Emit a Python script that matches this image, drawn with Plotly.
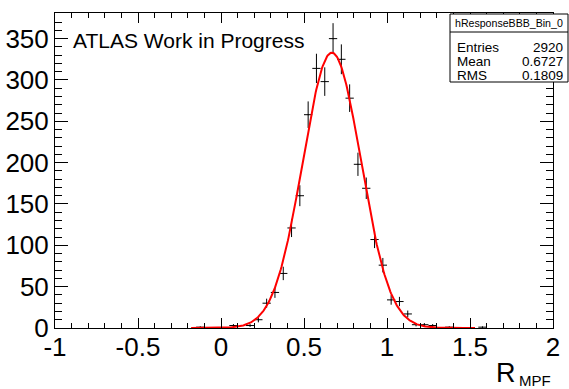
import numpy as np
import plotly.graph_objects as go

# Histogram data (bin width 0.05)
bin_centers = [-0.125, 0.075, 0.175, 0.225, 0.275, 0.325, 0.375, 0.425, 0.475,
               0.525, 0.575, 0.625, 0.675, 0.725, 0.775, 0.825, 0.875, 0.925,
               0.975, 1.025, 1.075, 1.125, 1.175, 1.225, 1.275, 1.375, 1.575]
counts = [1, 3, 3, 10, 30, 43, 66, 121, 160,
          258, 314, 298, 350, 325, 278, 198, 169, 107,
          76, 34, 32, 17, 4, 4, 3, 1, 1]
bin_half_width = 0.025

# Gaussian fit parameters
fit_constant = 333.0
fit_mean = 0.668
fit_sigma = 0.175
fit_range = (-0.18, 1.53)

# Stats box
stats_title = "hResponseBBB_Bin_0"
stats_labels = ["Entries", "Mean", "RMS"]
stats_values = ["2920", "0.6727", "0.1809"]

x_ticks = [-1, -0.5, 0, 0.5, 1, 1.5, 2]
x_ticktext = ["-1", "-0.5", "0", "0.5", "1", "1.5", "2"]
y_ticks = [0, 50, 100, 150, 200, 250, 300, 350]

FONT = "Liberation Sans, Arial, Helvetica, sans-serif"

fig = go.Figure()

errs = [np.sqrt(c) for c in counts]
fig.add_trace(go.Scatter(
    x=bin_centers, y=counts, mode="markers",
    marker=dict(size=1, color="black"),
    error_y=dict(type="data", array=errs, visible=True, color="black", thickness=1, width=0),
    error_x=dict(type="constant", value=bin_half_width, visible=True, color="black", thickness=1, width=0),
    showlegend=False, hoverinfo="skip",
))

xf = np.linspace(fit_range[0], fit_range[1], 400)
yf = fit_constant * np.exp(-0.5 * ((xf - fit_mean) / fit_sigma) ** 2)
fig.add_trace(go.Scatter(x=xf, y=yf, mode="lines", line=dict(color="red", width=2),
                         showlegend=False, hoverinfo="skip"))

L, R, T, B = 55, 16, 13, 61
W, H = 569, 389
pw = W - L - R
ph = H - T - B

def px(xp):
    return (xp - L) / pw

def py(yp):
    return (H - B - yp) / ph

fig.update_layout(
    width=W, height=H,
    margin=dict(l=L, r=R, t=T, b=B, autoexpand=False),
    paper_bgcolor="white", plot_bgcolor="white",
    font=dict(family=FONT, color="black"),
    xaxis=dict(range=[-1, 2], tickvals=x_ticks, ticktext=x_ticktext, automargin=False,
               ticks="inside", ticklen=10, tickwidth=1, tickcolor="black",
               showline=True, linecolor="black", linewidth=1, mirror="allticks",
               showgrid=False, zeroline=False, ticklabelstandoff=-4,
               tickfont=dict(size=26, family=FONT),
               minor=dict(ticks="inside", dtick=0.1, ticklen=5, tickcolor="black", showgrid=False)),
    yaxis=dict(range=[0, 381], tickvals=y_ticks, automargin=False,
               ticks="inside", ticklen=13, tickwidth=1, tickcolor="black",
               showline=True, linecolor="black", linewidth=1, mirror="allticks",
               showgrid=False, zeroline=False,
               tickfont=dict(size=26, family=FONT),
               minor=dict(ticks="inside", dtick=10, ticklen=7, tickcolor="black", showgrid=False)),
)

annotations = []
annotations.append(dict(xref="paper", yref="paper", x=px(71), y=py(40), text="ATLAS Work in Progress",
                        showarrow=False, xanchor="left", yanchor="middle",
                        font=dict(size=21, family=FONT, color="black")))
annotations.append(dict(xref="paper", yref="paper", x=px(518), y=py(373), text="R",
                        showarrow=False, xanchor="right", yanchor="middle",
                        font=dict(size=27, family=FONT, color="black")))
annotations.append(dict(xref="paper", yref="paper", x=px(517), y=py(380), text="MPF",
                        showarrow=False, xanchor="left", yanchor="middle",
                        font=dict(size=15, family=FONT, color="black")))

# stats box
bx0, bx1, by0, by1, bsep = 450, 568, 14, 82, 32
shapes = [
    dict(type="rect", xref="paper", yref="paper", x0=px(bx0), x1=px(bx1), y0=py(by0), y1=py(by1),
         line=dict(color="black", width=1), fillcolor="white", layer="above"),
    dict(type="line", xref="paper", yref="paper", x0=px(bx0), x1=px(bx1), y0=py(bsep), y1=py(bsep),
         line=dict(color="black", width=1), layer="above"),
]
annotations.append(dict(xref="paper", yref="paper", x=px((bx0 + bx1) / 2), y=py(23), text=stats_title,
                        showarrow=False, xanchor="center", yanchor="middle",
                        font=dict(size=10.6, family=FONT, color="black")))
row_y = [47.5, 61.5, 75]
for lab, val, yy in zip(stats_labels, stats_values, row_y):
    annotations.append(dict(xref="paper", yref="paper", x=px(455), y=py(yy), text=lab,
                            showarrow=False, xanchor="left", yanchor="middle", height=13,
                            font=dict(size=13.5, family=FONT, color="black")))
    annotations.append(dict(xref="paper", yref="paper", x=px(565), y=py(yy), text=val,
                            showarrow=False, xanchor="right", yanchor="middle", height=13,
                            font=dict(size=13.5, family=FONT, color="black")))

fig.update_layout(annotations=annotations, shapes=shapes)
fig.write_html("out.html")
